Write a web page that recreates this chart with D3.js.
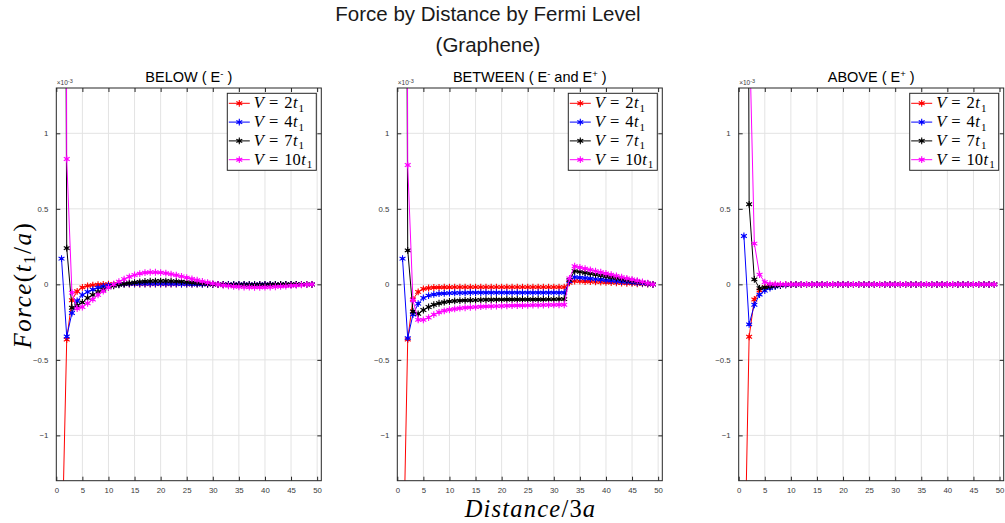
<!DOCTYPE html>
<html><head><meta charset="utf-8">
<script src="https://cdn.jsdelivr.net/npm/d3@7"></script>
<style>body{margin:0;background:#fff}svg{display:block}</style>
</head><body><svg id="c" width="1005" height="523"></svg>
<script>
// ---------------- data (force values in units of 1e-3 t1/a) ----------------
const distances = [1,2,3,4,5,6,7,8,9,10,11,12,13,14,15,16,17,18,19,20,21,22,23,24,25,26,27,28,29,30,31,32,33,34,35,36,37,38,39,40,41,42,43,44,45,46,47,48,49];
const xTicks = [0,5,10,15,20,25,30,35,40,45,50];
const yTicks = [-1,-0.5,0,0.5,1];
const seriesNames = ["2","4","7","10"];
const seriesColors = ["#ff0000","#0000ff","#000000","#ff00ff"];

const below_V2  = [-1.9,-0.365,-0.105,-0.046,-0.02,-0.01,-0.005,-0.002,0,0.001,0.002,0.002,0.002,0.002,0.002,0.002,0.002,0.002,0.002,0.002,0.002,0.002,0.002,0.002,0.001,0.001,0.001,0.001,0,0,0,0,0,0,0,0,0,0,0,0,0,0,0,0,0,0,0,0,0];
const below_V4  = [0.17,-0.345,-0.19,-0.11,-0.07,-0.05,-0.035,-0.022,-0.013,-0.007,-0.003,0,0.002,0.003,0.004,0.004,0.004,0.004,0.004,0.004,0.004,0.003,0.003,0.002,0.002,0.001,0.001,0,0,0,0,0,0,0,0,0,0,0,0,0,0,0,0,0,0,0,0,0,0];
const below_V7  = [10,0.24,-0.155,-0.14,-0.12,-0.09,-0.07,-0.05,-0.035,-0.02,-0.01,-0.003,0.003,0.008,0.012,0.016,0.019,0.021,0.022,0.022,0.022,0.021,0.02,0.018,0.015,0.012,0.009,0.006,0.003,0.001,-0.001,-0.002,-0.003,-0.004,-0.004,-0.004,-0.004,-0.004,-0.003,-0.003,-0.002,-0.002,-0.001,-0.001,0,0,0,0,0];
const below_V10 = [15,0.83,-0.055,-0.16,-0.15,-0.125,-0.1,-0.07,-0.045,-0.02,0,0.018,0.035,0.05,0.062,0.071,0.077,0.08,0.08,0.078,0.074,0.068,0.061,0.053,0.045,0.036,0.028,0.02,0.012,0.005,-0.001,-0.006,-0.01,-0.014,-0.016,-0.018,-0.019,-0.02,-0.02,-0.019,-0.018,-0.016,-0.014,-0.012,-0.009,-0.007,-0.004,-0.002,0];

const between_V2  = [-2.1,-0.365,-0.1,-0.05,-0.03,-0.024,-0.021,-0.02,-0.019,-0.019,-0.018,-0.018,-0.018,-0.018,-0.018,-0.018,-0.018,-0.018,-0.018,-0.018,-0.018,-0.018,-0.018,-0.018,-0.018,-0.018,-0.018,-0.018,-0.018,-0.018,-0.018,-0.018,0.01,0.022,0.021,0.019,0.018,0.016,0.015,0.013,0.012,0.01,0.009,0.007,0.006,0.004,0.003,0.001,0];
const between_V4  = [0.17,-0.356,-0.2,-0.128,-0.09,-0.075,-0.067,-0.062,-0.06,-0.058,-0.057,-0.056,-0.056,-0.055,-0.055,-0.055,-0.055,-0.055,-0.055,-0.055,-0.055,-0.055,-0.055,-0.055,-0.055,-0.055,-0.055,-0.055,-0.055,-0.055,-0.055,-0.055,0.02,0.048,0.045,0.042,0.038,0.035,0.032,0.028,0.025,0.022,0.019,0.016,0.013,0.01,0.006,0.003,0];
const between_V7  = [10,0.225,-0.18,-0.195,-0.17,-0.15,-0.135,-0.125,-0.118,-0.113,-0.11,-0.108,-0.106,-0.105,-0.104,-0.103,-0.102,-0.102,-0.101,-0.101,-0.1,-0.1,-0.1,-0.1,-0.1,-0.1,-0.1,-0.1,-0.099,-0.099,-0.098,-0.098,0.03,0.088,0.083,0.077,0.071,0.065,0.059,0.053,0.047,0.041,0.035,0.029,0.023,0.018,0.012,0.006,0];
const between_V10 = [15,0.79,-0.105,-0.235,-0.235,-0.22,-0.2,-0.185,-0.175,-0.168,-0.163,-0.158,-0.155,-0.152,-0.15,-0.148,-0.146,-0.145,-0.144,-0.143,-0.142,-0.141,-0.14,-0.14,-0.139,-0.138,-0.138,-0.137,-0.136,-0.136,-0.135,-0.135,0.04,0.12,0.112,0.104,0.096,0.088,0.08,0.072,0.064,0.056,0.048,0.04,0.032,0.024,0.016,0.008,0];

const above_V2  = [-2.15,-0.347,-0.1,-0.04,-0.018,-0.01,-0.006,-0.003,-0.002,-0.001,0,0,0,0,0,0,0,0,0,0,0,0,0,0,0,0,0,0,0,0,0,0,0,0,0,0,0,0,0,0,0,0,0,0,0,0,0,0,0];
const above_V4  = [0.32,-0.265,-0.135,-0.068,-0.042,-0.025,-0.015,-0.008,-0.004,-0.002,-0.001,0,0,0,0,0,0,0,0,0,0,0,0,0,0,0,0,0,0,0,0,0,0,0,0,0,0,0,0,0,0,0,0,0,0,0,0,0,0];
const above_V7  = [12,0.53,0.033,-0.026,-0.02,-0.015,-0.01,-0.006,-0.003,-0.002,-0.001,0,0,0,0,0,0,0,0,0,0,0,0,0,0,0,0,0,0,0,0,0,0,0,0,0,0,0,0,0,0,0,0,0,0,0,0,0,0];
const above_V10 = [25,1.76,0.27,0.064,0.015,0.003,0.001,0,0,0,0,0,0,0,0,0,0,0,0,0,0,0,0,0,0,0,0,0,0,0,0,0,0,0,0,0,0,0,0,0,0,0,0,0,0,0,0,0,0];

const panelTitles = [
  [{t:"BELOW ( E"},{s:"-"},{t:" )"}],
  [{t:"BETWEEN ( E"},{s:"-"},{t:" and E"},{s:"+"},{t:" )"}],
  [{t:"ABOVE ( E"},{s:"+"},{t:" )"}]
];
const panelSeries = [
  [below_V2, below_V4, below_V7, below_V10],
  [between_V2, between_V4, between_V7, between_V10],
  [above_V2, above_V4, above_V7, above_V10]
];

// ---------------- layout ----------------
const svg = d3.select("#c");
const panelLeft = [56.3, 397.3, 738.7];
const pw = 265, plotTop = 88, plotBottom = 480.7;
const axisCol = "#262626";
const sans = "'Liberation Sans', Arial, Helvetica, sans-serif";
const serif = "'Liberation Serif', 'Times New Roman', serif";

// main title
svg.append("text").attr("x", 488).attr("y", 21).attr("text-anchor","middle")
  .attr("font-family", sans).attr("font-size", 20.5).attr("fill","#1a1a1a")
  .text("Force by Distance by Fermi Level");
svg.append("text").attr("x", 488).attr("y", 52).attr("text-anchor","middle")
  .attr("font-family", sans).attr("font-size", 20.5).attr("fill","#1a1a1a")
  .text("(Graphene)");

const asterisk = d3.symbol().type(d3.symbolAsterisk).size(32);

panelSeries.forEach((series, pi) => {
  const L = panelLeft[pi], R = L + pw;
  const x = d3.scaleLinear().domain([0, 50.8]).range([L, R]);
  const y = d3.scaleLinear().domain([-1.3, 1.3]).range([plotBottom, plotTop]);
  const g = svg.append("g");

  // grid
  g.selectAll(".gx").data(xTicks.filter(d => d > 0 && d < 50.8)).join("line")
    .attr("x1", d => x(d)).attr("x2", d => x(d)).attr("y1", plotTop).attr("y2", plotBottom)
    .attr("stroke", "#e3e3e3").attr("stroke-width", 1);
  g.selectAll(".gy").data(yTicks).join("line")
    .attr("x1", L).attr("x2", R).attr("y1", d => y(d)).attr("y2", d => y(d))
    .attr("stroke", "#e3e3e3").attr("stroke-width", 1);

  // clip
  const cid = "clip" + pi;
  svg.append("clipPath").attr("id", cid).append("rect")
    .attr("x", L).attr("y", plotTop).attr("width", pw).attr("height", plotBottom - plotTop);
  const plot = g.append("g").attr("clip-path", `url(#${cid})`);

  const line = d3.line().x((d, i) => x(distances[i])).y(d => y(d));
  series.forEach((vals, si) => {
    const col = seriesColors[si];
    plot.append("path").attr("d", line(vals)).attr("fill", "none")
      .attr("stroke", col).attr("stroke-width", 1);
    const mk = plot.append("g");
    vals.forEach((v, i) => {
      const px = x(distances[i]), py = y(v);
      mk.append("path").attr("d", asterisk).attr("transform", `translate(${px},${py})`)
        .attr("fill", "none").attr("stroke", col).attr("stroke-width", 1.1);
      mk.append("circle").attr("cx", px).attr("cy", py).attr("r", 1.6).attr("fill", col);
    });
  });

  // axes box with ticks on all sides (inward)
  const xAxB = d3.axisBottom(x).tickValues(xTicks).tickSizeInner(-4).tickSizeOuter(0).tickPadding(7).tickFormat(d3.format("d"));
  const xAxT = d3.axisTop(x).tickValues(xTicks).tickSizeInner(-4).tickSizeOuter(0).tickFormat("");
  const yAxL = d3.axisLeft(y).tickValues(yTicks).tickSizeInner(-4).tickSizeOuter(0).tickPadding(8).tickFormat(d => d3.format("")(d));
  const yAxR = d3.axisRight(y).tickValues(yTicks).tickSizeInner(-4).tickSizeOuter(0).tickFormat("");
  const style = sel => {
    sel.select(".domain").remove();
    sel.selectAll("line").attr("stroke", axisCol);
    sel.selectAll("text").attr("fill", "#3a3a3a").attr("font-family", sans).attr("font-size", 7.8);
  };
  g.append("g").attr("transform", `translate(0,${plotBottom})`).call(xAxB).call(style);
  g.append("g").attr("transform", `translate(0,${plotTop})`).call(xAxT).call(style);
  g.append("g").attr("transform", `translate(${L},0)`).call(yAxL).call(style);
  g.append("g").attr("transform", `translate(${R},0)`).call(yAxR).call(style);
  g.append("rect").attr("x", L).attr("y", plotTop).attr("width", pw).attr("height", plotBottom - plotTop)
    .attr("fill", "none").attr("stroke", axisCol).attr("stroke-width", 1);

  // exponent label
  const ex = g.append("text").attr("x", L + 0.5).attr("y", plotTop - 3)
    .attr("font-family", sans).attr("font-size", 6.5).attr("fill", "#3a3a3a");
  ex.append("tspan").text("×10");
  ex.append("tspan").attr("dy", -2.5).attr("font-size", 5.5).text("-3");

  // panel title
  const tt = g.append("text").attr("x", L + pw / 2).attr("y", 82).attr("text-anchor", "middle")
    .attr("font-family", sans).attr("font-size", 14.5).attr("fill", "#000");
  let pendingDy = 0;
  panelTitles[pi].forEach(p => {
    if (p.t !== undefined) {
      tt.append("tspan").attr("dy", pendingDy).text(p.t);
      pendingDy = 0;
    } else {
      tt.append("tspan").attr("dy", -5 + pendingDy).attr("font-size", 9.5).text(p.s);
      pendingDy = 5;
    }
  });

  // legend
  const lw = 89, lh = 77, lx = R - 5 - lw, ly = plotTop + 5.3;
  const lg = g.append("g");
  lg.append("rect").attr("x", lx).attr("y", ly).attr("width", lw).attr("height", lh)
    .attr("fill", "#fff").attr("stroke", axisCol).attr("stroke-width", 1);
  seriesNames.forEach((nm, si) => {
    const ry = ly + 10 + si * 18.8, col = seriesColors[si];
    lg.append("line").attr("x1", lx + 1.5).attr("x2", lx + 22.5).attr("y1", ry).attr("y2", ry)
      .attr("stroke", col).attr("stroke-width", 1);
    lg.append("path").attr("d", asterisk).attr("transform", `translate(${lx + 12},${ry})`)
      .attr("fill", "none").attr("stroke", col).attr("stroke-width", 1.1);
    lg.append("circle").attr("cx", lx + 12).attr("cy", ry).attr("r", 1.6).attr("fill", col);
    const tx = lg.append("text").attr("x", lx + 26.5).attr("y", ry + 5)
      .attr("font-family", serif).attr("font-size", 16.5).attr("fill", "#000");
    tx.append("tspan").attr("font-style", "italic").text("V");
    tx.append("tspan").attr("dx", 5).text("=");
    tx.append("tspan").attr("dx", 6).text(nm);
    tx.append("tspan").attr("font-style", "italic").attr("dx", 0.5).text("t");
    tx.append("tspan").attr("font-size", 11).attr("dx", 1).attr("dy", 3.5).text("1");
  });
});

// axis labels
const yl = svg.append("text").attr("transform", "translate(31,285) rotate(-90)")
  .attr("text-anchor", "middle").attr("font-family", serif).attr("font-size", 25)
  .attr("letter-spacing", 1.5).attr("fill", "#000");
yl.append("tspan").attr("font-style", "italic").text("Force");
yl.append("tspan").text("(");
yl.append("tspan").attr("font-style", "italic").text("t");
yl.append("tspan").attr("font-size", 17).attr("dy", 4).text("1");
yl.append("tspan").attr("dy", -4).text("/");
yl.append("tspan").attr("font-style", "italic").text("a");
yl.append("tspan").text(")");

const xl = svg.append("text").attr("x", 530.5).attr("y", 517)
  .attr("text-anchor", "middle").attr("font-family", serif).attr("font-size", 24.5)
  .attr("letter-spacing", 1.2).attr("fill", "#000");
xl.append("tspan").attr("font-style", "italic").text("Distance");
xl.append("tspan").text("/3");
xl.append("tspan").attr("font-style", "italic").text("a");
</script></body></html>
